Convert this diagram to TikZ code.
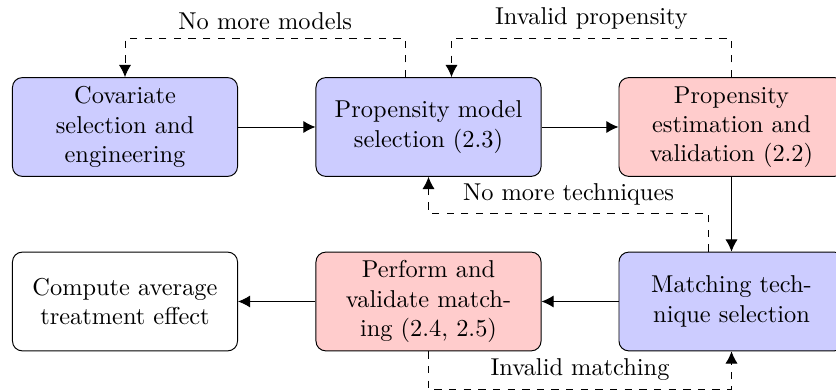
\documentclass[tikz,border=0pt]{standalone}
\usetikzlibrary{calc,arrows.meta}
\begin{document}
\begin{tikzpicture}[x=0.41pt,y=-0.41pt,
  box/.style={draw, rounded corners=4pt, text width=2.8cm, inner xsep=6.3pt, align=center, minimum height=40.5pt},
  bluebox/.style={box, fill=blue!20},
  redbox/.style={box, fill=red!20},
  whitebox/.style={box, fill=white},
  flow/.style={-{Latex[length=5pt,width=5pt]}},
  back/.style={flow, dashed}]
\useasboundingbox (0,0) rectangle (836,390);
\node[bluebox] (b1) at (125,127) {Covariate selection and engineering};
\node[bluebox] (b2) at (428.5,127) {Propensity model selection (2.3)};
\node[redbox] (b3) at (731.5,127) {Propensity estimation and validation (2.2)};
\node[whitebox] (b4) at (125,301.5) {Compute average treatment effect};
\node[redbox] (b5) at (428.5,301.5) {Perform and validate matching (2.4, 2.5)};
\node[bluebox] (b6) at (731.5,301.5) {Matching technique selection};
\draw[flow] (b1) -- (b2);
\draw[flow] (b2) -- (b3);
\draw[flow] (b3) -- (b6);
\draw[flow] (b6) -- (b5);
\draw[flow] (b5) -- (b4);
\coordinate (m1) at ($(b2.north)+(-23,0)$);
\coordinate (m2) at ($(b2.north)+(23,0)$);
\coordinate (m3) at ($(b6.north)+(-23,0)$);
\draw[back] (m1) -- ++(0,-39) -| (b1.north) node[pos=0.25, above] {No more models};
\draw[back] (b3.north) -- ++(0,-39) -| (m2) node[pos=0.25, above] {Invalid propensity};
\draw[back] (m3) -- ++(0,-38) -| (b2.south) node[pos=0.25, above] {No more techniques};
\draw[back] (b5.south) -- ++(0,38) -| (b6.south) node[pos=0.25, above] {Invalid matching};
\end{tikzpicture}
\end{document}
